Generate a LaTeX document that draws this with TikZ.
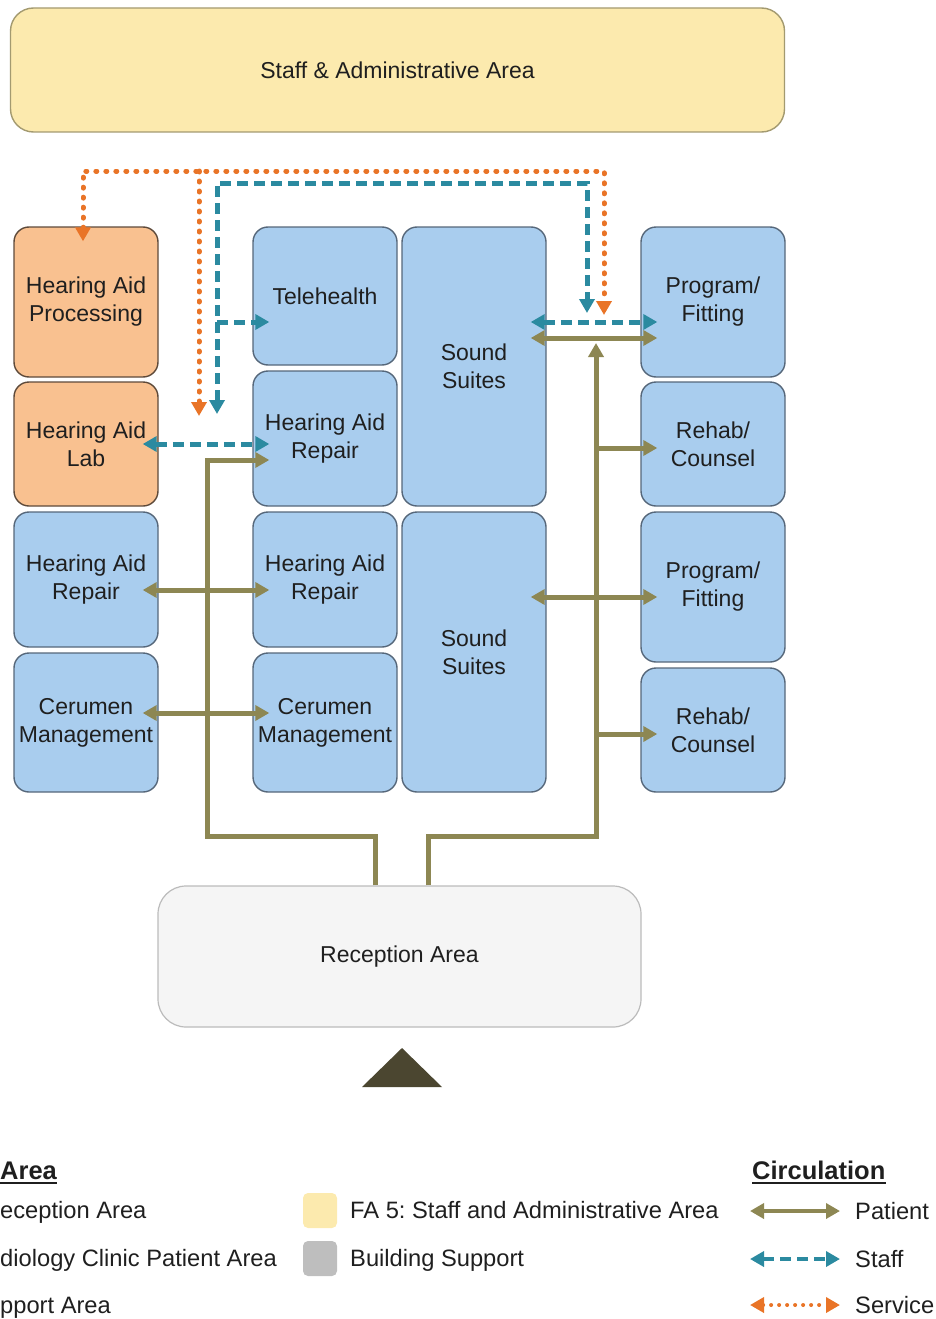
\documentclass[tikz,border=0pt]{standalone}
\usepackage{fontspec}
\setmainfont{Liberation Sans}
\usetikzlibrary{arrows.meta, calc}

\definecolor{roomblue}{HTML}{A9CDEE}
\definecolor{roomblueline}{HTML}{56677A}
\definecolor{roomorange}{HTML}{F9C190}
\definecolor{roomorangeline}{HTML}{5E4A3A}
\definecolor{adminyellow}{HTML}{FCEAAE}
\definecolor{adminline}{HTML}{A39A70}
\definecolor{supportgray}{HTML}{BEBEBE}
\definecolor{recepfill}{HTML}{F5F5F5}
\definecolor{recepline}{HTML}{BBBBBB}
\definecolor{patientc}{HTML}{8D8753}
\definecolor{staffc}{HTML}{2B8AA0}
\definecolor{servicec}{HTML}{E97427}
\definecolor{entryc}{HTML}{4B4630}

\frenchspacing

\tikzset{
    room/.style={rectangle, rounded corners=15pt, line width=1.4pt, inner sep=0pt, align=center,
        text=black!88, font=\fontsize{23}{28}\selectfont},
    clinic/.style={room, fill=roomblue, draw=roomblueline, minimum width=144pt},
    lab/.style={room, fill=roomorange, draw=roomorangeline, minimum width=144pt},
    tip/.style={>={Triangle[length=14pt, width=15pt]}},
    patient/.style={tip, draw=patientc, line width=5pt},
    staff/.style={tip, draw=staffc, line width=5pt, dash pattern=on 11pt off 6pt},
    service/.style={tip, draw=servicec, line width=5pt, line cap=round, dash pattern=on 1pt off 9pt},
    legtext/.style={inner sep=0pt, text=black!88, font=\fontsize{23.7}{28}\selectfont},
    leghead/.style={inner sep=0pt, text=black!88, font=\fontsize{25.5}{30}\selectfont\bfseries},
    legsquare/.style={rectangle, rounded corners=5pt, minimum width=34pt, minimum height=35pt, inner sep=0pt},
}

\begin{document}
\begin{tikzpicture}[x=1pt, y=-1pt]
        \useasboundingbox (0,0) rectangle (936,1319);
        \clip (0,0) rectangle (936,1319);

        %nodes
        \node[room, fill=adminyellow, draw=adminline, rounded corners=23pt, minimum width=774pt, minimum height=124pt] (admin) at (397.5,70) {Staff \& Administrative Area};

        \node[lab, minimum height=150pt] (hap) at (86,302) {Hearing Aid\\Processing};
        \node[lab, minimum height=124pt] (hal) at (86,444) {Hearing Aid\\Lab};
        \node[clinic, minimum height=135pt] (harL) at (86,579.5) {Hearing Aid\\Repair};
        \node[clinic, minimum height=139pt] (cmL) at (86,722.5) {Cerumen\\Management};

        \node[clinic, minimum height=138pt] (tele) at (325,296) {Telehealth};
        \node[clinic, minimum height=135pt] (harM) at (325,438.5) {Hearing Aid\\Repair};
        \node[clinic, minimum height=135pt] (harM2) at (325,579.5) {Hearing Aid\\Repair};
        \node[clinic, minimum height=139pt] (cmM) at (325,722.5) {Cerumen\\Management};

        \node[clinic, minimum height=279pt] (ss1) at (474,366.5) {Sound\\Suites};
        \node[clinic, minimum height=280pt] (ss2) at (474,652) {Sound\\Suites};

        \node[clinic, minimum height=150pt] (pf1) at (713,302) {Program/\\Fitting};
        \node[clinic, minimum height=124pt] (rc1) at (713,444) {Rehab/\\Counsel};
        \node[clinic, minimum height=150pt] (pf2) at (713,587) {Program/\\Fitting};
        \node[clinic, minimum height=124pt] (rc2) at (713,730) {Rehab/\\Counsel};

        \node[room, fill=recepfill, draw=recepline, line width=1.2pt, rounded corners=28pt, minimum width=483pt, minimum height=141pt] (recep) at (399.5,956.5) {Reception Area};

        %entry
        \fill[entryc] (362,1087) -- (402,1048) -- (442,1087) -- cycle;

        %free ends
        \coordinate (svcL) at (199,416);
        \coordinate (svcR) at (604,315);
        \coordinate (stfL) at (217,414);
        \coordinate (stfR) at (587,313);
        \coordinate (patR) at (596,343);

        %service edges
        \draw[service, <->] ($(hap.north)+(-3,15)$) -- (83,171) -- (604,171) -- (svcR);
        \draw[service, ->] (199,171) -- (svcL);

        %staff edges
        \draw[staff, <->] (stfL) -- (217,183) -- (587,183) -- (stfR);
        \draw[staff, ->] (217,322) -- ($(tele.west)+(17,26)$);
        \draw[staff, <->] ($(ss1.east)+(-16,-44.5)$) -- ($(pf1.west)+(17,20)$);
        \draw[staff, <->] ($(hal.east)+(-16,0)$) -- ($(harM.west)+(17,5.5)$);

        %patient edges
        \draw[patient, ->] ($(recep.north)+(-24.5,0)$) -- (375,836) -- (207,836) -- (207,460) -- ($(harM.west)+(17,21.5)$);
        \draw[patient, <->] ($(harL.east)+(-16,10.5)$) -- ($(harM2.west)+(17,10.5)$);
        \draw[patient, <->] ($(cmL.east)+(-16,-9.5)$) -- ($(cmM.west)+(17,-9.5)$);
        \draw[patient, ->] ($(recep.north)+(28.5,0)$) -- (428,836) -- (596,836) -- (patR);
        \draw[patient, <->] ($(ss1.east)+(-16,-28.5)$) -- ($(pf1.west)+(17,36)$);
        \draw[patient, ->] (596,448) -- ($(rc1.west)+(17,4)$);
        \draw[patient, <->] ($(ss2.east)+(-16,-55)$) -- ($(pf2.west)+(17,10)$);
        \draw[patient, ->] (596,734) -- ($(rc2.west)+(17,4)$);

        %legend
        \node[leghead, anchor=base west] (legArea) at (0,1179) {Area};
        \draw[line width=2pt, black!88] ([yshift=-4pt]legArea.base west) -- ([yshift=-4pt]legArea.base east);
        \node[legtext, anchor=base west] (legRecep) at (0,1218) {eception Area};
        \node[legtext, anchor=base west] (legClinic) at (0,1266) {diology Clinic Patient Area};
        \node[legtext, anchor=base west] (legSupport) at (0,1313) {pport Area};

        \node[legsquare, fill=adminyellow] (sqAdmin) at (320,1210.5) {};
        \node[legsquare, fill=supportgray] (sqBuild) at (320,1258.5) {};
        \node[legtext, anchor=base west] (legAdmin) at (350,1218) {FA 5: Staff and Administrative Area};
        \node[legtext, anchor=base west] (legBuild) at (350,1266) {Building Support};

        \node[leghead, anchor=base west] (legCirc) at (752,1179) {Circulation};
        \draw[line width=2pt, black!88] ([yshift=-4pt]legCirc.base west) -- ([yshift=-4pt]legCirc.base east);
        \node[legtext, anchor=west] (legPatient) at (855,1211) {Patient};
        \node[legtext, anchor=west] (legStaff) at (855,1259) {Staff};
        \node[legtext, anchor=west] (legService) at (855,1305) {Service};
        \coordinate (legPatS) at (750,1211);
        \coordinate (legStfS) at (750,1259);
        \coordinate (legSvcS) at (750,1305);
        \draw[patient, <->, line width=4pt] (legPatS) -- ($(legPatient.west)+(-15,0)$);
        \draw[staff, <->, line width=4pt] (legStfS) -- ($(legStaff.west)+(-15,0)$);
        \draw[service, <->, line width=4pt, dash pattern=on 0pt off 8pt] (legSvcS) -- ($(legService.west)+(-15,0)$);
    \end{tikzpicture}
\end{document}
